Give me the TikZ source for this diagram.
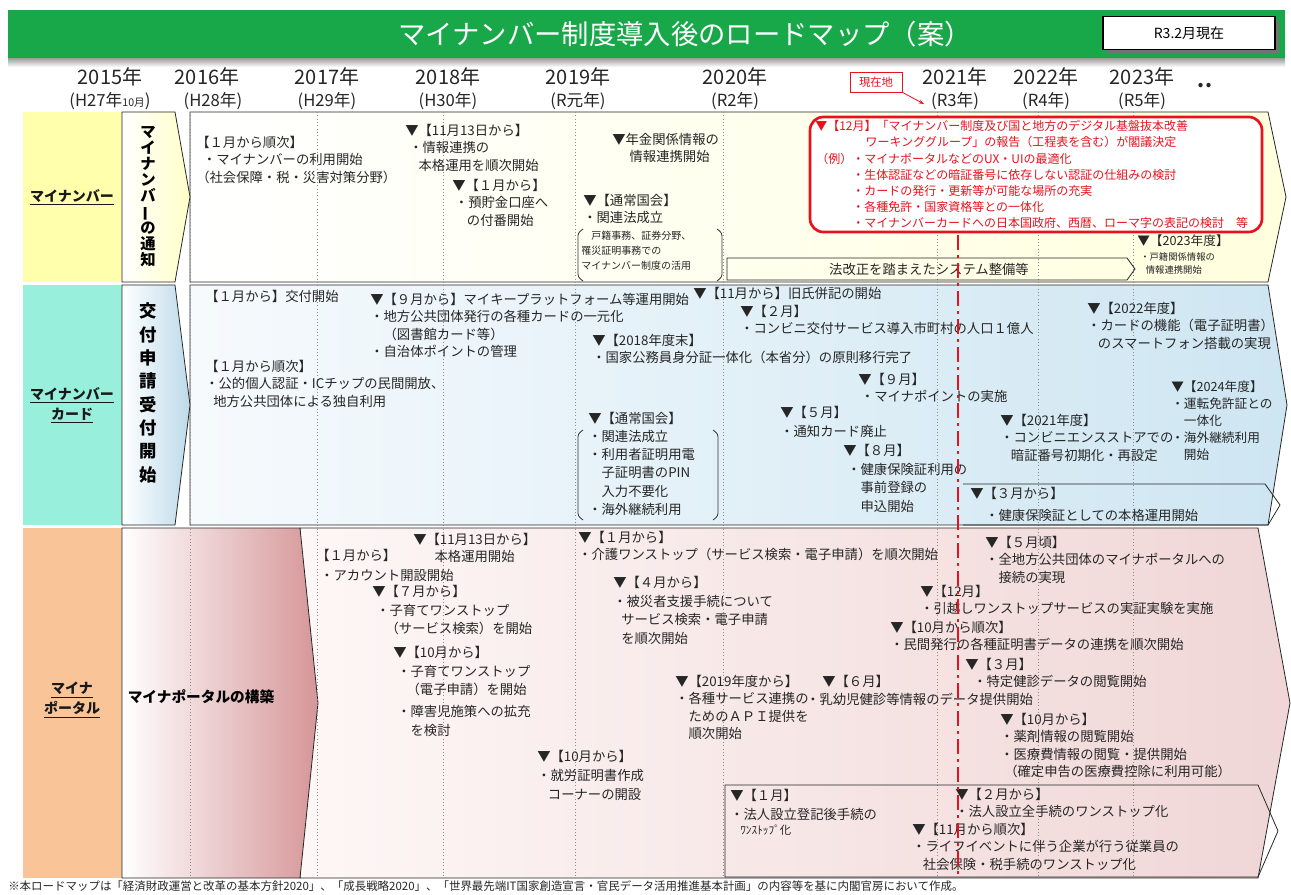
\documentclass[tikz,border=0pt]{standalone}
\usepackage{fontspec}
\setmainfont{Noto Sans CJK JP}
\usetikzlibrary{arrows.meta}
\definecolor{hdr}{RGB}{24,168,74}
\definecolor{txt}{RGB}{38,38,38}
\definecolor{rd}{RGB}{232,18,30}
\definecolor{yel}{RGB}{255,255,172}
\definecolor{cyn}{RGB}{152,240,220}
\definecolor{pch}{RGB}{248,196,152}
\definecolor{caR}{RGB}{255,255,200}
\definecolor{cbR}{RGB}{188,218,234}
\definecolor{ccR}{RGB}{214,150,152}
\definecolor{baR}{RGB}{255,255,222}
\definecolor{bbL}{RGB}{246,250,253}
\definecolor{bbR}{RGB}{206,230,242}
\definecolor{bcL}{RGB}{253,247,246}
\definecolor{bcR}{RGB}{240,214,214}
\definecolor{grd}{RGB}{140,140,140}
\newcommand{\myind}[1]{\hspace*{#1em}}
\newcommand{\vbar}{\rotatebox[origin=c]{90}{ー}}
\begin{document}
\begin{tikzpicture}[x=0.75pt,y=-0.75pt,
  tx/.style={anchor=north west,inner sep=0pt,align=left,text=txt,font=\fontsize{10}{13}\selectfont},
  txw/.style={tx,font=\fontsize{10}{14}\selectfont},
  t9/.style={tx,font=\fontsize{9.5}{12.6}\selectfont},
  sm/.style={tx,font=\fontsize{7.5}{11}\selectfont},
  rt/.style={anchor=north west,inner sep=0pt,align=left,text=rd,font=\fontsize{9}{12}\selectfont},
  shp/.style={draw=black!85,line width=0.6pt},
  grid/.style={draw=grd,line width=0.5pt,dotted},
  lbl/.style={align=center,inner sep=0pt,text=black!90,font=\bfseries\fontsize{10.5}{15}\selectfont},
  yr/.style={inner sep=0pt,text=black!85,font=\fontsize{15}{18}\selectfont},
  hy/.style={inner sep=0pt,text=black!85,font=\fontsize{12.5}{15}\selectfont},
  brk/.style={draw=black!80,line width=0.6pt,rounded corners=2pt},
  vt/.style={align=center,inner sep=0pt,text=black,font=\bfseries\fontsize{11.5}{12}\selectfont},
]
\useasboundingbox (0,0) rectangle (1291,895);
\fill[white] (0,0) rectangle (1291,895);
% header
\fill[hdr] (8,10) rectangle (1285,59);
\shade[top color=black!35,bottom color=white] (8,59) rectangle (1285,67);
\node[font=\fontsize{20.5}{24}\selectfont,text=white,inner sep=0pt] (title) at (685,34) {マイナンバー制度導入後のロードマップ（案）};
\fill[black!55] (1107,21) rectangle (1279,54);
\node[draw=black,line width=1.2pt,fill=white,minimum width=129pt,minimum height=24.5pt,inner sep=0pt,font=\fontsize{10.5}{12}\selectfont] (asof) at (1189,33) {R3.2月現在};
% years
\node[yr] (y15) at (110,77) {2015年};
\node[yr] (y16) at (207,77) {2016年};
\node[yr] (y17) at (327,77) {2017年};
\node[yr] (y18) at (448,77) {2018年};
\node[yr] (y19) at (578,77) {2019年};
\node[yr] (y20) at (735,77) {2020年};
\node[yr] (y21) at (955,77) {2021年};
\node[yr] (y22) at (1046,77) {2022年};
\node[yr] (y23) at (1142,77) {2023年};
\node[yr,font=\bfseries\fontsize{15}{18}\selectfont] (ydots) at (1205,86) {..};
\node[hy] (h27) at (110,101) {(H27年{\fontsize{8}{8}\selectfont 10月})};
\node[hy] (h28) at (213,101) {(H28年)};
\node[hy] (h29) at (327,101) {(H29年)};
\node[hy] (h30) at (448,101) {(H30年)};
\node[hy] (r1) at (578,101) {(R元年)};
\node[hy] (r2) at (735,101) {(R2年)};
\node[hy] (r3) at (955,101) {(R3年)};
\node[hy] (r4) at (1046,101) {(R4年)};
\node[hy] (r5) at (1142,101) {(R5年)};
\node[draw=rd,fill=white,text=rd,font=\fontsize{8.5}{10}\selectfont,minimum width=39pt,minimum height=15pt,inner sep=1pt] (now) at (876,82) {現在地};
\coordinate (nowpt) at (924,104);
\draw[rd,line width=0.6pt,-{Stealth[length=4pt]}] (now.south east) -- (nowpt);
% label cells
\fill[yel] (23,112) rectangle (122,282);
\fill[cyn] (23,285) rectangle (122,525);
\fill[pch] (23,528) rectangle (122,878);
% content backgrounds
\path[shp,left color=white,right color=baR] (190,112) -- (1268,112) -- (1286,197) -- (1268,282) -- (190,282) -- cycle;
\path[shp,left color=bbL,right color=bbR] (190,285) -- (1268,285) -- (1287,405) -- (1268,525) -- (190,525) -- cycle;
\path[shp,left color=bcL,right color=bcR] (300,528) -- (1258,528) -- (1290,703) -- (1258,878) -- (300,878) -- cycle;
% column 2 arrows
\path[shp,left color=white,right color=caR] (122,112) -- (175,112) -- (190,197) -- (175,282) -- (122,282) -- cycle;
\path[shp,left color=white,right color=cbR] (122,285) -- (175,285) -- (190,405) -- (175,525) -- (122,525) -- cycle;
\path[shp,left color=white,right color=ccR] (122,528) -- (300,528) -- (318,703) -- (300,878) -- (122,878) -- cycle;
% grid
\foreach \gx in {190,317,443,575,723,937,1038,1133} \draw[grid] (\gx,112) -- (\gx,878);
% labels
\node[lbl] (lab1) at (72,197) {\underline{マイナンバー}};
\node[lbl] (lab2) at (72,405) {\underline{マイナンバー}\\\underline{カード}};
\node[lbl] (lab3) at (72,700) {\underline{マイナ}\\\underline{ポータル}};
\node[vt] (v1) at (148,197) {マ\\イ\\ナ\\ン\\バ\\\vbar\\の\\通\\知};
\node[vt,font=\bfseries\fontsize{13}{17.5}\selectfont] (v2) at (148,393) {交\\付\\申\\請\\受\\付\\開\\始};
\node[inner sep=0pt,text=black,font=\bfseries\fontsize{11}{13}\selectfont] (v3) at (201,697) {マイナポータルの構築};
% boxes
\path[shp] (727,258) -- (1127,258) -- (1135,269) -- (1127,280) -- (727,280) -- cycle;
\path[shp] (963,484) -- (1265,484) -- (1280,505) -- (1268,525) -- (963,525);
\path[shp] (725,785) -- (1258,785) -- (1278,831) -- (1258,877) -- (725,877) -- cycle;
\draw[brk] (583,229) -- (578,233) -- (578,277) -- (583,281);
\draw[brk] (717,229) -- (722,233) -- (722,277) -- (717,281);
\draw[brk] (583,430) -- (578,434) -- (578,516) -- (583,520);
\draw[brk] (713,430) -- (718,434) -- (718,516) -- (713,520);
\draw[rd,line width=2pt,fill=white,rounded corners=10pt] (810,117) rectangle (1262,232);
% row 1 texts
\node[tx] (a1) at (196,136) {【１月から順次】\\\myind{0.5}・マイナンバーの利用開始\\（社会保障・税・災害対策分野）};
\node[tx] (a2) at (405,124) {▼【11月13日から】\\\myind{0.3}・情報連携の\\\myind{1}本格運用を順次開始};
\node[tx] (a3) at (452,179) {▼【１月から】\\\myind{0.2}・預貯金口座へ\\\myind{1.1}の付番開始};
\node[tx] (a4) at (612,133) {▼年金関係情報の\\\myind{1.3}情報連携開始};
\node[tx] (a5) at (583,194) {▼【通常国会】\\・関連法成立};
\node[sm] (a6) at (581,231) {\myind{1}戸籍事務、証券分野、\\罹災証明事務での\\マイナンバー制度の活用};
\node[rt] (a7) at (815,120) {▼【12月】「マイナンバー制度及び国と地方のデジタル基盤抜本改善\\\myind{4.2}ワーキンググループ」の報告（工程表を含む）が閣議決定};
\node[rt] (a8) at (816,153) {（例）};
\node[rt] (a9) at (852,153) {・マイナポータルなどのUX・UIの最適化\\・生体認証などの暗証番号に依存しない認証の仕組みの検討\\・カードの発行・更新等が可能な場所の充実\\・各種免許・国家資格等との一体化\\・マイナンバーカードへの日本国政府、西暦、ローマ字の表記の検討\myind{1}等};
\node[t9] (a10) at (1137,235) {▼【2023年度】};
\node[sm,font=\fontsize{7}{10}\selectfont] (a11) at (1140,252) {・戸籍関係情報の\\\myind{0.6}情報連携開始};
\node[inner sep=0pt,text=txt,font=\fontsize{10}{12}\selectfont] (a12) at (929,269) {法改正を踏まえたシステム整備等};
% row 2 texts
\node[tx] (b1) at (205,290) {【１月から】交付開始};
\node[tx] (b2) at (370,293) {▼【９月から】マイキープラットフォーム等運用開始\\・地方公共団体発行の各種カードの一元化\\\myind{1}（図書館カード等）\\・自治体ポイントの管理};
\node[tx] (b3) at (205,360) {【１月から順次】\\・公的個人認証・ICチップの民間開放、\\\myind{0.6}地方公共団体による独自利用};
\node[tx] (b4) at (693,287) {▼【11月から】旧氏併記の開始};
\node[tx] (b5) at (740,305) {▼【２月】\\・コンビニ交付サービス導入市町村の人口１億人};
\node[tx] (b6) at (592,334) {▼【2018年度末】\\・国家公務員身分証一体化（本省分）の原則移行完了};
\node[tx] (b7) at (858,373) {▼【９月】\\\myind{0.2}・マイナポイントの実施};
\node[txw,font=\fontsize{10}{14.5}\selectfont] (b8) at (780,406) {▼【５月】\\・通知カード廃止};
\node[txw,font=\fontsize{10}{13.6}\selectfont] (b9) at (588,412) {▼【通常国会】\\・関連法成立\\・利用者証明用電\\\myind{1}子証明書のPIN\\\myind{1}入力不要化\\・海外継続利用};
\node[txw] (b10) at (843,444) {▼【８月】\\\myind{0.3}・健康保険証利用の\\\myind{1.3}事前登録の\\\myind{1.3}申込開始};
\node[tx] (b11) at (1000,414) {▼【2021年度】\\・コンビニエンスストアでの\\\myind{0.8}暗証番号初期化・再設定};
\node[tx] (b12) at (1087,302) {▼【2022年度】\\・カードの機能（電子証明書）\\\myind{0.8}のスマートフォン搭載の実現};
\node[t9] (b13) at (1171,381) {▼【2024年度】\\・運転免許証との\\\myind{1}一体化\\・海外継続利用\\\myind{1}開始};
\node[tx] (b14) at (970,487) {▼【３月から】};
\node[tx] (b15) at (985,509) {・健康保険証としての本格運用開始};
% row 3 texts
\node[txw,font=\fontsize{10}{15}\selectfont] (c1) at (316,549) {【１月から】\\\myind{0.3}・アカウント開設開始};
\node[tx] (c2) at (413,533) {▼【11月13日から】\\\myind{1.6}本格運用開始};
\node[txw] (c3) at (372,585) {▼【７月から】\\\myind{0.3}・子育てワンストップ\\\myind{1}（サービス検索）を開始};
\node[txw] (c4) at (393,646) {▼【10月から】\\\myind{0.3}・子育てワンストップ\\\myind{1}（電子申請）を開始};
\node[txw] (c5) at (397,705) {・障害児施策への拡充\\\myind{1}を検討};
\node[tx] (c6) at (578,531) {▼【１月から】\\・介護ワンストップ（サービス検索・電子申請）を順次開始};
\node[txw] (c7) at (613,576) {▼【４月から】\\・被災者支援手続について\\\myind{0.6}サービス検索・電子申請\\\myind{0.6}を順次開始};
\node[tx] (c8) at (985,536) {▼【５月頃】\\・全地方公共団体のマイナポータルへの\\\myind{1}接続の実現};
\node[tx] (c9) at (920,585) {▼【12月】\\・引越しワンストップサービスの実証実験を実施};
\node[tx] (c10) at (890,621) {▼【10月から順次】\\・民間発行の各種証明書データの連携を順次開始};
\node[tx] (c11) at (965,658) {▼【３月】\\\myind{0.6}・特定健診データの閲覧開始};
\node[tx] (c12) at (675,675) {▼【2019年度から】\\・各種サービス連携の\\\myind{1}ためのＡＰＩ提供を\\\myind{1}順次開始};
\node[tx] (c13) at (822,675) {▼【６月】};
\node[tx] (c14) at (806,693) {・乳幼児健診等情報のデータ提供開始};
\node[tx] (c15) at (1000,713) {▼【10月から】\\・薬剤情報の閲覧開始\\・医療費情報の閲覧・提供開始\\\myind{0.3}（確定申告の医療費控除に利用可能）};
\node[txw,font=\fontsize{10}{14.2}\selectfont] (c16) at (537,750) {▼【10月から】\\・就労証明書作成\\\myind{0.8}コーナーの開設};
\node[txw] (c17) at (730,789) {▼【１月】\\・法人設立登記後手続の};
\node[tx,font=\fontsize{8.5}{10}\selectfont] (c18) at (740,825) {ﾜﾝｽﾄｯﾌﾟ化};
\node[tx] (c19) at (955,788) {▼【２月から】\\・法人設立全手続のワンストップ化};
\node[tx] (c20) at (912,823) {▼【11月から順次】\\・ライフイベントに伴う企業が行う従業員の\\\myind{0.8}社会保険・税手続のワンストップ化};
% current position line
\draw[rd,line width=2.2pt,dash pattern=on 11pt off 4pt on 2pt off 4pt] (958,235) -- (958,876);
% footnote
\node[anchor=west,inner sep=0pt,text=txt,font=\fontsize{8.6}{10}\selectfont] (fn) at (8,886) {※本ロードマップは「経済財政運営と改革の基本方針2020」、「成長戦略2020」、「世界最先端IT国家創造宣言・官民データ活用推進基本計画」の内容等を基に内閣官房において作成。};
\end{tikzpicture}
\end{document}
